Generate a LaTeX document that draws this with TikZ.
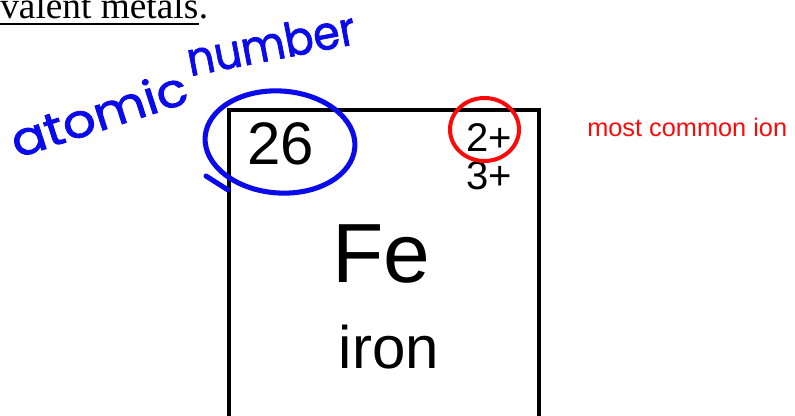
\documentclass[tikz,border=0pt]{standalone}
\usepackage{fontspec}
\setmainfont{Liberation Serif}
\setsansfont{Liberation Sans}
\newfontfamily\handfont[FakeBold=1.6]{Poppins}
\usetikzlibrary{positioning,calc}
\definecolor{penblue}{RGB}{10,10,235}
\definecolor{penred}{RGB}{250,10,10}
\tikzset{
  cellframe/.style={line width=3pt},
  numtext/.style={inner sep=0pt,anchor=base,font=\sffamily\fontsize{45}{54}\selectfont},
  iontext/.style={inner sep=0pt,anchor=base,font=\sffamily\fontsize{30}{36}\selectfont},
  symtext/.style={inner sep=0pt,anchor=base,font=\sffamily\fontsize{63}{75}\selectfont},
  nametext/.style={inner sep=0pt,anchor=base,font=\sffamily\fontsize{45}{54}\selectfont},
  notetext/.style={inner sep=0pt,anchor=base west,text=penred,font=\sffamily\fontsize{19}{23}\selectfont},
  handtext/.style={inner sep=0pt,anchor=base,text=penblue,font=\handfont\fontsize{35}{42}\selectfont},
  bluepen/.style={draw=penblue,line width=3.8pt,line cap=round,line join=round},
  redpen/.style={draw=penred,line width=3pt}
}

\begin{document}
\begin{tikzpicture}[x=0.75pt,y=-0.75pt]
  \useasboundingbox (0,0) rectangle (795,416);
  % heading line cut at the top
  \node[inner sep=0pt,anchor=base west,font=\fontsize{28}{32}\selectfont] (heading) at (0,19) {valent metals};
  \node[inner sep=0pt,anchor=base west,font=\fontsize{28}{32}\selectfont] (dot) at (heading.base east) {.};
  \draw[line width=1.5pt] ($(heading.base west)+(0,5)$) -- ($(heading.base east)+(0,5)$);
  % the element cell
  \coordinate (cellsw) at (229,430);
  \coordinate (cellnw) at (229,110.5);
  \coordinate (cellne) at (539,110.5);
  \coordinate (cellse) at (539,430);
  \draw[cellframe] (cellsw) -- (cellnw) -- (cellne) -- (cellse);
  \node[numtext] (num) at (280.5,165) {26};
  \node[iontext] (ionA) at (489.5,152) {2+};
  \node[iontext] (ionB) at (489.5,190) {3+};
  \node[symtext] (sym) at (381.5,283) {Fe};
  \node[nametext] (name) at (389,368) {iron};
  % notes
  \node[notetext] (common) at (587,137) {most common ion};
  \draw[redpen] (484.5,129.5) ellipse [x radius=34.5, y radius=31.5];
  \node[handtext,rotate=18] (atomic) at (104,130) {\scalebox{1.1}[1]{atomic}};
  \node[handtext,rotate=11] (number) at (274,60) {\scalebox{0.92}[1]{number}};
  \draw[bluepen,rotate around={-4:(280,142)}] (280,142) ellipse [x radius=75, y radius=51];
  \draw[bluepen] (206,176) -- (228,190);
\end{tikzpicture}
\end{document}
